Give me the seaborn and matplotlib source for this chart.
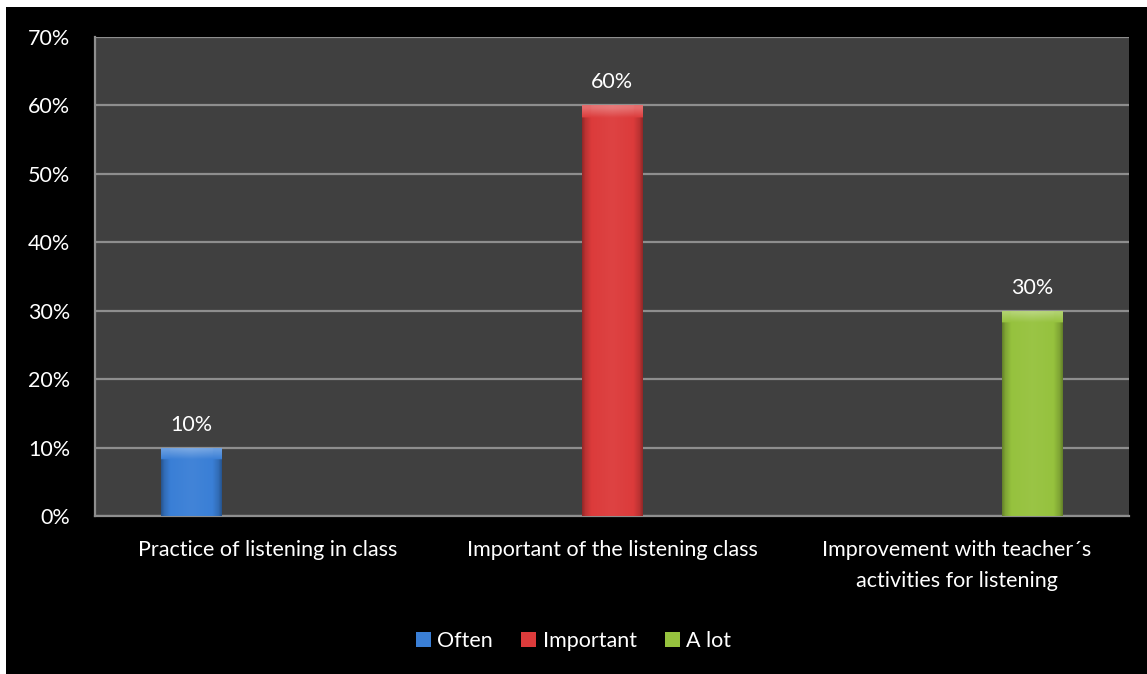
import numpy as np
import pandas as pd
import matplotlib
matplotlib.use("Agg")
import matplotlib.pyplot as plt
from matplotlib.patches import Rectangle
from matplotlib.colors import to_rgb
import seaborn as sns

# ---- data ----
categories = ["Practice of listening in class",
              "Important of the listening class",
              "Improvement with teacher´s\nactivities for listening"]
series = ["Often", "Important", "A lot"]
often_vals = [0.10, 0.0, 0.0]
important_vals = [0.0, 0.60, 0.0]
alot_vals = [0.0, 0.0, 0.30]
y_ticks = [0.0, 0.1, 0.2, 0.3, 0.4, 0.5, 0.6, 0.7]

colors = {"Often": "#3a7fd6", "Important": "#dc3b3b", "A lot": "#96c23e"}

rows = []
for s, vals in zip(series, [often_vals, important_vals, alot_vals]):
    for c, v in zip(categories, vals):
        rows.append({"category": c, "series": s, "value": v})
df = pd.DataFrame(rows)

sns.set_theme(style="dark")
plt.rcParams["font.family"] = ["Lato", "DejaVu Sans"]
FS = 15.5

fig = plt.figure(figsize=(11.47, 6.74), dpi=100, facecolor="black")
# thin white margin along the top and left edges
fig.patches.append(Rectangle((0, 1 - 7 / 674), 1, 7 / 674, transform=fig.transFigure,
                             facecolor="white", edgecolor="none", zorder=0))
fig.patches.append(Rectangle((0, 0), 6 / 1147, 1, transform=fig.transFigure,
                             facecolor="white", edgecolor="none", zorder=0))

ax = fig.add_axes([95 / 1147, 1 - 516 / 674, (1129 - 95) / 1147, (516 - 37) / 674])
ax.set_facecolor("#404040")

sns.barplot(data=df, x="category", y="value", hue="series", hue_order=series,
            palette=colors, saturation=1, width=0.66, gap=0.2, linewidth=0, ax=ax,
            legend=False, zorder=3)

ax.set_ylim(0, 0.7)
ax.set_yticks(y_ticks)
ax.set_yticklabels([f"{int(round(t * 100))}%" for t in y_ticks])
ax.yaxis.grid(True, color="#8e8e8e", linewidth=1.6, zorder=1)
ax.xaxis.grid(False)
ax.set_axisbelow(True)
ax.set_xlabel("")
ax.set_ylabel("")
ax.tick_params(axis="y", colors="white", labelsize=FS, length=0, pad=18)
ax.tick_params(axis="x", colors="white", labelsize=FS, length=0, pad=17)
for lbl in ax.get_xticklabels():
    lbl.set_multialignment("center")
    lbl.set_linespacing(1.7)
for side in ["top", "right"]:
    ax.spines[side].set_visible(False)
for side in ["left", "bottom"]:
    ax.spines[side].set_visible(True)
    ax.spines[side].set_color("#8e8e8e")
    ax.spines[side].set_linewidth(1.6)


def shade(rgb, f):
    rgb = np.array(rgb)
    if f >= 0:
        return rgb + (1 - rgb) * f
    return rgb * (1 + f)


# glossy shading on each bar, clipped to the bar outline
bars = [p for p in ax.patches if p.get_height() > 0]
for p in bars:
    x0, w, h = p.get_x(), p.get_width(), p.get_height()
    base = to_rgb(p.get_facecolor())
    nx, ny = 60, 300
    u = np.linspace(0, 1, nx)
    prof = np.interp(u, [0, 0.05, 0.15, 0.5, 0.85, 0.95, 1],
                     [-0.32, -0.15, 0.0, 0.04, 0.0, -0.15, -0.32])
    v = np.linspace(0, 1, ny)  # 0 = bottom, 1 = top
    bevel = (10 / 684.0) / h  # bevel depth as a fraction of bar height
    img = np.zeros((ny, nx, 3))
    for j in range(ny):
        d = (1 - v[j]) / bevel
        top = 0.28 * np.clip(1.2 - d, 0, 1) if d < 1.2 else 0.0
        for i in range(nx):
            f = prof[i] if top == 0 else max(prof[i] + top, top * 0.9)
            img[j, i] = np.clip(shade(base, f), 0, 1)
    im = ax.imshow(img, extent=[x0, x0 + w, 0, h], origin="lower", aspect="auto",
                   zorder=4, interpolation="bilinear")
    im.set_clip_path(p)
    ax.text(x0 + w / 2, h + 0.019, f"{int(round(h * 100))}%", ha="center", va="bottom",
            color="white", fontsize=FS, zorder=5)

ax.set_xlim(-0.5, 2.5)
ax.set_aspect("auto")

handles = [Rectangle((0, 0), 1, 1, facecolor=colors[s], edgecolor="none") for s in series]
leg = fig.legend(handles, series, loc="center", bbox_to_anchor=(0.5, 1 - 641 / 674),
                 ncol=3, frameon=False, fontsize=FS, handlelength=0.7, handleheight=0.7,
                 handletextpad=0.3, columnspacing=1.3)
for t in leg.get_texts():
    t.set_color("white")

fig.savefig("out.png", dpi=100, facecolor="black")
